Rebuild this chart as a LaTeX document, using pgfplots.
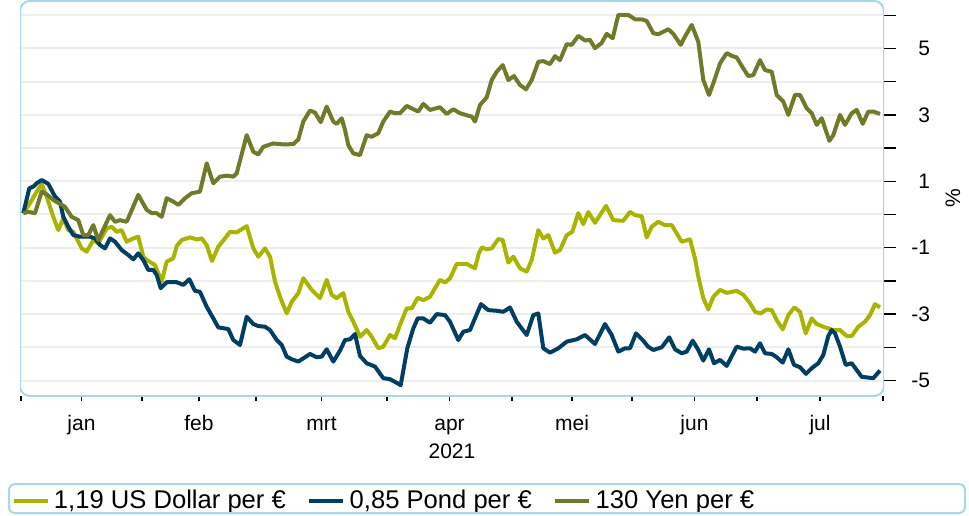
\documentclass[border=0pt]{standalone}
\usepackage{pgfplots}
\pgfplotsset{compat=1.18}
\usepackage{fontspec}
\setmainfont{Liberation Sans}
\definecolor{usd}{HTML}{A9B400}
\definecolor{gbp}{HTML}{003E64}
\definecolor{jpy}{HTML}{707A28}
\definecolor{boxc}{HTML}{A8D8E8}
\definecolor{gridc}{HTML}{EDEDED}
\begin{document}
\begin{tikzpicture}
\useasboundingbox (-10pt,-59.5pt) rectangle (474.5pt,198pt);
\begin{axis}[
  at={(0pt,0pt)}, anchor=south west,
  scale only axis, width=432pt, height=197.5pt,
  xmin=20, xmax=884, ymin=-5.467, ymax=6.431,
  axis line style={draw=none},
  tick align=outside,
  xtick={21,142,256,387,512,632,757,883},
  xticklabels={},
  xtick pos=left,
  xtick style={/pgfplots/major tick length=2.5pt},
  extra x ticks={81.5,199,321.5,449.5,572,694.5,820},
  extra x tick labels={jan,feb,mrt,apr,mei,jun,jul},
  extra x tick style={major tick length=0pt, grid=none,
    xticklabel style={anchor=base, yshift=-17pt}},
  ytick={-5,-3,-1,1,3,5},
  yticklabels={-5,-3,-1,1,3,5},
  minor ytick={-4,-2,0,2,4,6},
  ytick pos=right, yticklabel pos=right,
  major tick length=6pt, minor tick length=6pt,
  tick style={black, line width=0.7pt},
  ymajorgrids, yminorgrids,
  major grid style={gridc, line width=1pt},
  minor grid style={gridc, line width=1pt},
  yticklabel style={anchor=east, xshift=20.5pt},
  tick label style={font=\fontsize{10.5}{12}\selectfont},
  legend columns=3,
  legend cell align=left,
  legend style={at={(axis description cs:-0.0174,-0.2658)}, anchor=west,
    draw=none, fill=none, font=\fontsize{12.8}{15}\selectfont,
    /tikz/every even column/.append style={column sep=8.6pt}},
  legend image code/.code={\draw[#1, line width=2.3pt] (0pt,0pt) -- (17pt,0pt);},
  every axis plot/.append style={line width=2pt, line join=round},
]
\addplot[usd] coordinates {
(23.3,0.04) (30,0.34) (36.7,0.69) (41.7,0.91) (46.7,0.54) (53.3,-0.07) (58.3,-0.47)
(63.3,-0.11) (68.3,-0.47) (73.3,-0.52) (81.7,-1.02) (86.7,-1.12) (93.3,-0.77) (98.3,-0.87)
(106.7,-0.42) (111.7,-0.37) (116.7,-0.52) (121.7,-0.47) (126.7,-0.82) (133.3,-0.72)
(138.3,-0.67) (143.3,-1.27) (146.7,-1.37) (155,-1.52) (161.7,-2.02) (166.7,-1.42)
(173.3,-1.32) (176.7,-0.95) (181.7,-0.77) (190,-0.69) (196.7,-0.75) (201.7,-0.72)
(206.7,-0.92) (212,-1.40) (218.3,-0.97) (225,-0.72) (230,-0.52) (236.7,-0.54)
(246.7,-0.35) (253.3,-1.02) (258.3,-1.27) (265,-1.02) (270,-1.27) (275,-2.02) (280,-2.48)
(286.7,-2.98) (291.7,-2.63) (298.3,-2.37) (303.3,-1.92) (311.7,-2.27) (320,-2.52)
(326.7,-1.97) (331.7,-2.42) (336.7,-2.52) (343.3,-2.37) (348.3,-2.93) (353.3,-3.23)
(360,-3.68) (366.7,-3.48) (371.7,-3.68) (378.3,-4.03) (383.3,-3.98) (390,-3.63)
(395,-3.73) (400,-3.33) (406.7,-2.83) (411.7,-2.83) (417.7,-2.51) (423.3,-2.58)
(430,-2.48) (435,-2.22) (440,-1.97) (445,-2.05) (450,-1.92) (456.7,-1.49) (466.7,-1.49)
(475,-1.62) (479,-1.15) (482,-0.99) (486.7,-1.05) (491.7,-1.02) (498.3,-0.74)
(502.7,-0.77) (508.3,-1.45) (513.3,-1.27) (520,-1.62) (526.7,-1.72) (531.7,-1.37)
(538.3,-0.47) (543.3,-0.72) (548.3,-0.62) (555,-1.15) (560,-1.07) (566.7,-0.62)
(572.3,-0.52) (578.3,0.04) (583.3,-0.29) (588.3,0.07) (595,-0.25) (606,0.26)
(613.3,-0.17) (623.3,-0.19) (630,0.08) (635,-0.02) (641.7,-0.05) (646.7,-0.69)
(651.7,-0.37) (658.3,-0.22) (665,-0.32) (671.7,-0.32) (681.7,-0.82) (690,-0.75)
(695,-1.32) (698.3,-1.87) (703.3,-2.52) (708.3,-2.86) (713.3,-2.48) (720,-2.27)
(726.7,-2.36) (736.7,-2.30) (743.3,-2.42) (750,-2.67) (755,-2.93) (760.7,-2.98)
(766.7,-2.86) (771.7,-2.88) (776.7,-3.18) (782.7,-3.46) (788.3,-3.03) (794.3,-2.80)
(800,-2.93) (805.7,-3.58) (811.7,-3.13) (816.7,-3.30) (825,-3.40) (833.3,-3.48)
(840,-3.48) (846.7,-3.66) (851.7,-3.66) (858.3,-3.38) (865,-3.23) (870,-3.03)
(875,-2.70) (880,-2.80)
};
\addlegendentry{1,19 US Dollar per €}
\addplot[gbp] coordinates {
(23.3,0.04) (29.3,0.79) (33.3,0.84) (36.7,0.94) (41.7,1.04) (48.3,0.92) (55,0.54)
(60,0.39) (63.3,-0.07) (68.3,-0.37) (73.3,-0.62) (80,-0.67) (90,-0.67) (95,-0.72)
(100,-0.92) (105,-1.02) (110,-0.72) (115,-0.82) (121.7,-1.07) (128.3,-1.22)
(133.3,-1.35) (138.3,-1.17) (143.3,-1.37) (148.3,-1.67) (153.3,-1.67) (156.7,-1.82)
(160.7,-2.22) (166.7,-2.04) (176.7,-2.04) (183.3,-2.12) (189.3,-1.95) (195,-2.30)
(200,-2.33) (206.7,-2.78) (213.3,-3.13) (218.3,-3.40) (228.3,-3.45) (233.3,-3.78)
(240,-3.93) (246.7,-3.08) (253.3,-3.30) (258.3,-3.36) (265,-3.38) (270,-3.48)
(276.7,-3.78) (281.7,-3.93) (286.7,-4.28) (291.7,-4.36) (298.3,-4.43) (305,-4.30)
(310,-4.20) (316.7,-4.30) (321.7,-4.28) (326.7,-4.06) (333.3,-4.43) (340,-4.10)
(345,-3.78) (350,-3.76) (355,-3.60) (360,-4.26) (366.7,-4.48) (375,-4.58) (383.3,-4.93)
(390,-4.96) (396.7,-5.07) (400.7,-5.14) (407.3,-4.03) (413.3,-3.43) (417.7,-3.13)
(423.3,-3.13) (430,-3.26) (436.7,-3.00) (445,-3.03) (450,-3.23) (458.3,-3.78)
(463.3,-3.53) (470,-3.48) (481,-2.70) (488.3,-2.88) (496.7,-2.90) (503.3,-2.93)
(510,-2.80) (516.7,-3.23) (526.7,-3.63) (533.3,-3.03) (538.3,-2.98) (543.3,-4.03)
(550,-4.16) (558.3,-4.03) (566.7,-3.83) (576.7,-3.76) (585,-3.63) (595,-3.90)
(605,-3.30) (611.7,-3.63) (618.3,-4.13) (625,-4.03) (630,-4.03) (636,-3.58)
(643.3,-3.80) (648,-3.98) (653.3,-4.08) (661.7,-4.00) (669.3,-3.70) (675,-4.06)
(681.7,-4.18) (686.7,-4.13) (692.7,-3.80) (698.3,-4.08) (703.3,-4.40) (709,-4.06)
(714,-4.48) (720,-4.38) (726.7,-4.56) (736.7,-3.98) (743.3,-4.04) (750,-4.03)
(755,-4.13) (760,-3.88) (765,-4.18) (771.7,-4.20) (776.7,-4.30) (782.7,-4.46)
(788.3,-4.06) (794,-4.53) (800,-4.60) (806,-4.80) (811.7,-4.63) (818.3,-4.48)
(823.3,-4.23) (828.3,-3.66) (831.7,-3.48) (835,-3.58) (840,-3.98) (845.7,-4.53)
(851.7,-4.48) (861.7,-4.89) (873.3,-4.93) (880,-4.70)
};
\addlegendentry{0,85 Pond per €}
\addplot[jpy] coordinates {
(23.3,0.04) (28.3,0.08) (35,0.04) (41.7,0.69) (47,0.60) (53.3,0.44) (61.7,0.29)
(65,0.23) (71.7,-0.07) (78.3,-0.17) (83.3,-0.62) (88.3,-0.62) (93.3,-0.32) (98.3,-0.77)
(110,-0.02) (115,-0.22) (120,-0.17) (126.7,-0.22) (138.3,0.59) (146.7,0.14) (151.7,0.04)
(156.7,0.04) (161.7,-0.07) (166.7,0.49) (173.3,0.39) (178.3,0.29) (185,0.49) (191.7,0.64)
(200,0.69) (206.7,1.54) (213.3,0.94) (220,1.14) (226.7,1.17) (233.3,1.14) (236.7,1.24)
(246.7,2.39) (253.3,1.89) (258.3,1.81) (263.3,2.04) (273.3,2.14) (283.3,2.11)
(293.3,2.12) (298.3,2.26) (303.3,2.80) (310,3.13) (315,3.07) (320.7,2.78) (326.7,3.25)
(333.3,2.80) (336.7,2.73) (341.7,2.90) (345,2.55) (348.3,2.09) (353.3,1.84) (360,1.79)
(366.7,2.39) (371.7,2.34) (378.3,2.45) (383.3,2.80) (390,3.10) (395,3.05) (400,3.05)
(406.7,3.27) (418.3,3.10) (423.3,3.33) (430,3.15) (440,3.23) (446.7,3.03) (453.3,3.17)
(460,3.05) (466.7,2.99) (471.7,2.95) (475,2.80) (480,3.30) (486.7,3.53) (491.7,4.05)
(496.7,4.30) (502.7,4.50) (508.3,4.05) (514,4.17) (520,3.90) (526,3.77) (531.7,4.05)
(538.3,4.60) (543.3,4.62) (550,4.53) (555,4.77) (560,4.65) (566.7,5.13) (571.7,5.11)
(578.3,5.38) (585,5.24) (590,5.26) (595,5.01) (601.7,5.17) (606.7,5.44) (612.7,5.31)
(618.3,6.01) (628.3,6.01) (635,5.88) (641.7,5.88) (646.7,5.83) (653.3,5.46)
(658.3,5.43) (668.3,5.58) (673.3,5.44) (680.7,5.11) (685,5.36) (691.7,5.71)
(698.3,5.20) (703.3,4.05) (709,3.60) (713.3,3.95) (720,4.55) (726.7,4.86) (731.7,4.78)
(736.7,4.73) (743.3,4.40) (748.3,4.17) (753.3,4.20) (760,4.65) (765,4.35) (771.7,4.30)
(776.7,3.60) (783.3,3.40) (788.3,3.00) (795,3.60) (800,3.60) (806.7,3.20) (811.7,3.05)
(816.7,2.70) (821.7,2.90) (829.3,2.22) (833.3,2.39) (840,3.00) (845,2.70) (851.7,3.05)
(856.7,3.15) (862.7,2.73) (868.3,3.10) (873.3,3.10) (880,3.03)
};
\addlegendentry{130 Yen per €}
\draw[boxc, line width=1pt, rounded corners=5pt] (rel axis cs:0,0) rectangle (rel axis cs:1,1);
\end{axis}
\node[rotate=90, font=\fontsize{10.5}{12}\selectfont] at (466.5pt,98.75pt) {\%};
\node[anchor=base, font=\fontsize{10.5}{12}\selectfont] at (216pt,-31pt) {2021};
\draw[boxc, line width=1pt, rounded corners=3pt] (-5.5pt,-44pt) rectangle (472.5pt,-58.5pt);
\end{tikzpicture}
\end{document}
